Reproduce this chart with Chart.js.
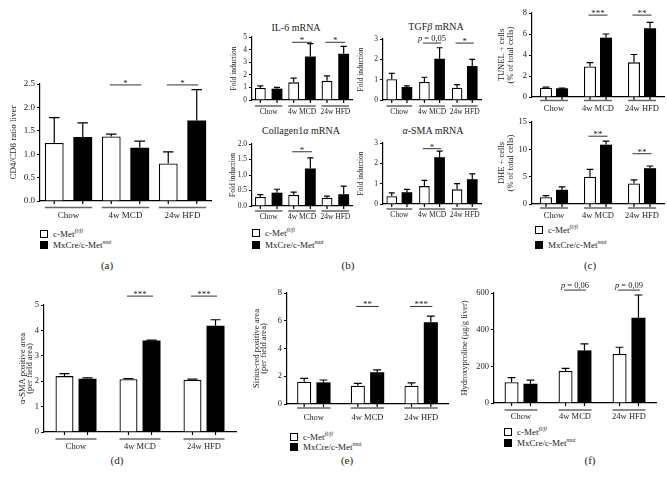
<!DOCTYPE html>
<html>
<head>
<meta charset="utf-8">
<script src="https://cdn.jsdelivr.net/npm/chart.js@4"></script>
<style>
  body { margin: 0; background: #fff; width: 667px; height: 490px; position: relative; overflow: hidden;
         font-family: 'Liberation Serif', 'DejaVu Serif', serif; color: #222; }
  canvas { position: absolute; }
  .t { position: absolute; transform: translate(-50%, -50%); font-size: 10px; white-space: nowrap; }
  .pl { position: absolute; transform: translate(-50%, -50%); font-size: 11px; }
  .leg { position: absolute; font-size: 9px; white-space: nowrap; }
  .sq { display: inline-block; width: 6px; height: 6px; border: 1px solid #000; margin-right: 5px; vertical-align: -1px; }
  .sq.b { background: #000; }
  sup { font-size: 6px; font-style: italic; vertical-align: 4px; line-height: 0; }
</style>
</head>
<body>

<div class="t" style="left:296px;top:27px">IL-6 mRNA</div>
<div class="t" style="left:436px;top:26px">TGF<i>β</i> mRNA</div>
<div class="t" style="left:301px;top:130px">Collagen1<i>α</i> mRNA</div>
<div class="t" style="left:433px;top:130px"><i>α</i>-SMA mRNA</div>

<div class="leg" style="left:40px;top:229px;line-height:11px"><div><span class="sq"></span>c-Met<sup>fl/fl</sup></div><div><span class="sq b"></span>MxCre/c-Met<sup>mut</sup></div></div>
<div class="leg" style="left:252px;top:227px;line-height:12px"><div><span class="sq"></span>c-Met<sup>fl/fl</sup></div><div><span class="sq b"></span>MxCre/c-Met<sup>mut</sup></div></div>
<div class="leg" style="left:535px;top:223px;line-height:15px"><div><span class="sq"></span>c-Met<sup>fl/fl</sup></div><div><span class="sq b"></span>MxCre/c-Met<sup>mut</sup></div></div>
<div class="leg" style="left:290px;top:432px;line-height:10px"><div><span class="sq"></span>c-Met<sup>fl/fl</sup></div><div><span class="sq b"></span>MxCre/c-Met<sup>mut</sup></div></div>
<div class="leg" style="left:504px;top:427px;line-height:11px"><div><span class="sq"></span>c-Met<sup>fl/fl</sup></div><div><span class="sq b"></span>MxCre/c-Met<sup>mut</sup></div></div>

<div class="pl" style="left:107px;top:265px">(a)</div>
<div class="pl" style="left:348px;top:265px">(b)</div>
<div class="pl" style="left:590px;top:265px">(c)</div>
<div class="pl" style="left:117px;top:460px">(d)</div>
<div class="pl" style="left:347px;top:460px">(e)</div>
<div class="pl" style="left:590px;top:460px">(f)</div>

<script>
const FONT = "'Liberation Serif', 'DejaVu Serif', serif";
const groups = ['Chow', '4w MCD', '24w HFD'];

// (a) CD4/CD8 ratio
const cd4Wt = [1.24, 1.38, 0.80];
const cd4WtErr = [1.78, 1.43, 1.05];
const cd4Mut = [1.37, 1.14, 1.72];
const cd4MutErr = [1.67, 1.28, 2.38];
const cd4Sig = ['', '*', '*'];
const cd4SigY = [null, 2.48, 2.48];

// (b) IL-6 mRNA
const il6Wt = [0.95, 1.40, 1.52];
const il6WtErr = [1.12, 1.73, 1.92];
const il6Mut = [0.90, 3.45, 3.67];
const il6MutErr = [1.00, 4.47, 4.26];
const il6Sig = ['', '*', '*'];
const il6SigY = [null, 4.58, 4.58];

// (b) TGFb mRNA
const tgfWt = [1.02, 0.89, 0.60];
const tgfWtErr = [1.31, 1.12, 0.76];
const tgfMut = [0.64, 2.03, 1.67];
const tgfMutErr = [0.69, 2.57, 2.00];
const tgfSig = ['', 'p = 0,05', '*'];
const tgfSigY = [null, 2.8, 2.8];

// (b) Collagen1a mRNA
const colWt = [0.29, 0.36, 0.27];
const colWtErr = [0.37, 0.45, 0.32];
const colMut = [0.43, 1.21, 0.38];
const colMutErr = [0.54, 1.55, 0.64];
const colSig = ['', '*', ''];
const colSigY = [null, 1.75, null];

// (b) a-SMA mRNA
const smaWt = [0.38, 0.88, 0.72];
const smaWtErr = [0.55, 1.16, 1.00];
const smaMut = [0.58, 2.30, 1.22];
const smaMutErr = [0.72, 2.60, 1.48];
const smaSig = ['', '*', ''];
const smaSigY = [null, 2.72, null];

// (c) TUNEL
const tunWt = [0.89, 2.90, 3.30];
const tunWtErr = [0.95, 3.28, 4.05];
const tunMut = [0.83, 5.65, 6.54];
const tunMutErr = [0.85, 6.00, 7.10];
const tunSig = ['', '***', '**'];
const tunSigY = [null, 7.8, 7.8];

// (c) DHE
const dheWt = [1.25, 5.00, 3.75];
const dheWtErr = [1.55, 6.35, 4.40];
const dheMut = [2.60, 10.85, 6.55];
const dheMutErr = [3.15, 11.50, 6.95];
const dheSig = ['', '**', '**'];
const dheSigY = [null, 12.4, 9.2];

// (d) a-SMA positive area
const areaWt = [2.20, 2.08, 2.06];
const areaWtErr = [2.30, 2.10, 2.08];
const areaMut = [2.10, 3.60, 4.18];
const areaMutErr = [2.13, 3.62, 4.42];
const areaSig = ['', '***', '***'];
const areaSigY = [null, 5.35, 5.35];

// (e) Sirius-red positive area
const srWt = [1.61, 1.32, 1.32];
const srWtErr = [1.85, 1.49, 1.52];
const srMut = [1.56, 2.29, 5.90];
const srMutErr = [1.73, 2.46, 6.33];
const srSig = ['', '**', '***'];
const srSigY = [null, 7.03, 7.03];

// (f) Hydroxyproline
const hypWt = [113, 175, 267];
const hypWtErr = [138, 189, 304];
const hypMut = [105, 287, 465];
const hypMutErr = [125, 322, 589];
const hypSig = ['', 'p = 0,06', 'p = 0,09'];
const hypSigY = [null, 616, 616];

// plot rectangles are page coordinates of the axes
const panels = [
  { L: 39.5, R: 210, T: 84.3, B: 201.7, min: 0, max: 2.5, step: 0.5, dec: 1, yTitle: ['CD4/CD8 ratio liver'], yTitleX: [14],
    fs: 9, cat: 1.0, bar: 0.66, ul: 6.5, lbl: 14.5, wt: cd4Wt, wtErr: cd4WtErr, mut: cd4Mut, mutErr: cd4MutErr, sig: cd4Sig, sigY: cd4SigY },
  { L: 251.5, R: 351, T: 37.3, B: 100, min: 0, max: 5, step: 1, dec: 0, yTitle: ['Fold induction'], yTitleX: [234],
    fs: 7.5, cat: 1.0, bar: 0.65, ul: 6, lbl: 12.5, wt: il6Wt, wtErr: il6WtErr, mut: il6Mut, mutErr: il6MutErr, sig: il6Sig, sigY: il6SigY },
  { L: 383, R: 480.5, T: 39, B: 100, min: 0, max: 3, step: 1, dec: 0, yTitle: ['Fold induction'], yTitleX: [361],
    fs: 7.5, cat: 0.93, bar: 0.7, ul: 6, lbl: 12.5, wt: tgfWt, wtErr: tgfWtErr, mut: tgfMut, mutErr: tgfMutErr, sig: tgfSig, sigY: tgfSigY },
  { L: 251.5, R: 351, T: 143.5, B: 205, min: 0, max: 2, step: 0.5, dec: 1, yTitle: ['Fold induction'], yTitleX: [233],
    fs: 7.5, cat: 1.0, bar: 0.65, ul: 5, lbl: 11.5, wt: colWt, wtErr: colWtErr, mut: colMut, mutErr: colMutErr, sig: colSig, sigY: colSigY },
  { L: 383, R: 480.5, T: 143.3, B: 204.7, min: 0, max: 3, step: 1, dec: 0, yTitle: ['Fold induction'], yTitleX: [361],
    fs: 7.5, cat: 0.93, bar: 0.7, ul: 5, lbl: 11.5, wt: smaWt, wtErr: smaWtErr, mut: smaMut, mutErr: smaMutErr, sig: smaSig, sigY: smaSigY },
  { L: 532, R: 664, T: 13, B: 97, min: 0, max: 8, step: 2, dec: 0, yTitle: ['TUNEL + cells', '(% of total cells)'], yTitleX: [502, 511],
    fs: 8.5, cat: 0.73, bar: 0.75, ul: 3.5, lbl: 12, wt: tunWt, wtErr: tunWtErr, mut: tunMut, mutErr: tunMutErr, sig: tunSig, sigY: tunSigY },
  { L: 532, R: 664, T: 121.7, B: 203.3, min: 0, max: 15, step: 5, dec: 0, yTitle: ['DHE + cells', '(% of total cells)'], yTitleX: [502, 511],
    fs: 8.5, cat: 0.73, bar: 0.75, ul: 4, lbl: 12, wt: dheWt, wtErr: dheWtErr, mut: dheMut, mutErr: dheMutErr, sig: dheSig, sigY: dheSigY },
  { L: 44, R: 236, T: 305, B: 432, min: 0, max: 5, step: 1, dec: 0, yTitle: ['α-SMA positive area', '(per field area)'], yTitleX: [23, 30],
    fs: 8.5, cat: 0.72, bar: 0.78, ul: 7, lbl: 15, wt: areaWt, wtErr: areaWtErr, mut: areaMut, mutErr: areaMutErr, sig: areaSig, sigY: areaSigY },
  { L: 286.5, R: 447.3, T: 292.6, B: 403.3, min: 0, max: 8, step: 2, dec: 0, yTitle: ['Sirius-red positive area', '(per field area)'], yTitleX: [257, 264],
    fs: 8.5, cat: 0.72, bar: 0.73, ul: 4, lbl: 13.4, wt: srWt, wtErr: srWtErr, mut: srMut, mutErr: srMutErr, sig: srSig, sigY: srSigY },
  { L: 494, R: 656, T: 293, B: 403, min: 0, max: 600, step: 200, dec: 0, yTitle: ['Hydroxyproline (μg/g liver)'], yTitleX: [465],
    fs: 8.5, cat: 0.70, bar: 0.74, ul: 7, lbl: 14, wt: hypWt, wtErr: hypWtErr, mut: hypMut, mutErr: hypMutErr, sig: hypSig, sigY: hypSigY }
];

// error bars, group underlines, labels, significance marks, y titles
const gp = {
  id: 'gp',
  afterDatasetsDraw(chart, args, o) {
    const p = o.p, ctx = chart.ctx, ys = chart.scales.y, ca = chart.chartArea;
    const m0 = chart.getDatasetMeta(0).data, m1 = chart.getDatasetMeta(1).data;
    const errs = [p.wtErr, p.mutErr];
    const f = p.fs + 'px ' + FONT;
    ctx.save();
    ctx.strokeStyle = '#000';
    ctx.lineWidth = 1.2;
    [m0, m1].forEach((els, d) => els.forEach((b, i) => {
      const ye = ys.getPixelForValue(errs[d][i]);
      const cw = b.width * 0.28;
      ctx.beginPath();
      ctx.moveTo(b.x, b.y); ctx.lineTo(b.x, ye);
      ctx.moveTo(b.x - cw, ye); ctx.lineTo(b.x + cw, ye);
      ctx.moveTo(b.x, ca.bottom); ctx.lineTo(b.x, ca.bottom + 3);
      ctx.stroke();
    }));

    ctx.font = f;
    ctx.fillStyle = '#222';
    groups.forEach((g, i) => {
      const a = m0[i], b = m1[i];
      const c = (a.x + b.x) / 2;
      // underline
      ctx.strokeStyle = '#666'; ctx.lineWidth = 1.5;
      ctx.beginPath();
      ctx.moveTo(a.x - a.width / 2, ca.bottom + p.ul);
      ctx.lineTo(b.x + b.width / 2, ca.bottom + p.ul);
      ctx.stroke();
      ctx.textAlign = 'center'; ctx.textBaseline = 'middle';
      ctx.fillText(g, c, ca.bottom + p.lbl);

      // significance
      if (p.sig[i]) {
        const y = ys.getPixelForValue(p.sigY[i]);
        const half = (b.x - a.x) / 2 + 1.5;
        ctx.strokeStyle = '#333'; ctx.lineWidth = 1;
        ctx.beginPath(); ctx.moveTo(c - half, y); ctx.lineTo(c + half, y); ctx.stroke();
        ctx.textBaseline = 'alphabetic';
        const s = p.sig[i];
        if (s.startsWith('p')) {
          const rest = s.slice(1);
          const pf = '8.5px ' + FONT;
          ctx.font = 'italic ' + pf;
          const w1 = ctx.measureText('p').width;
          ctx.font = pf;
          const w2 = ctx.measureText(rest).width;
          const x0 = c - (w1 + w2) / 2;
          ctx.textAlign = 'left';
          ctx.font = 'italic ' + pf;
          ctx.fillText('p', x0, y - 2.5);
          ctx.font = pf;
          ctx.fillText(rest, x0 + w1, y - 2.5);
        } else {
          ctx.textAlign = 'center';
          ctx.font = '9px ' + FONT;
          ctx.fillText(s, c, y + 1);
        }
        ctx.font = f;
      }
    });

    // y axis title
    ctx.textAlign = 'center'; ctx.textBaseline = 'middle';
    p.yTitle.forEach((t, k) => {
      ctx.save();
      ctx.translate(p.yTitleX[k] - p.left, (ca.top + ca.bottom) / 2);
      ctx.rotate(-Math.PI / 2);
      ctx.fillText(t, 0, 0);
      ctx.restore();
    });
    ctx.restore();
  }
};

panels.forEach(p => {
  const yw = Math.round(p.L - Math.min(...p.yTitleX) + 7);
  const pt = 14, pr = 4, pb = 24, xh = 1;
  const left = Math.round(p.L) - yw;
  const top = Math.round(p.T) - pt;
  const w = yw + Math.round(p.R - p.L) + pr;
  const h = pt + Math.round(p.B - p.T) + xh + pb;
  p.left = left;
  const cv = document.createElement('canvas');
  cv.width = w; cv.height = h;
  cv.style.left = left + 'px'; cv.style.top = top + 'px';
  document.body.appendChild(cv);

  new Chart(cv, {
    type: 'bar',
    data: {
      labels: groups,
      datasets: [
        { data: p.wt, backgroundColor: '#fff', borderColor: '#000', borderWidth: 1.3, borderSkipped: 'bottom',
          barPercentage: p.bar, categoryPercentage: p.cat },
        { data: p.mut, backgroundColor: '#000', borderColor: '#000', borderWidth: 0,
          barPercentage: p.bar, categoryPercentage: p.cat }
      ]
    },
    options: {
      responsive: false,
      animation: false,
      devicePixelRatio: 1,
      layout: { padding: { top: pt, right: pr, bottom: pb, left: 0 } },
      plugins: { legend: { display: false }, tooltip: { enabled: false }, gp: { p } },
      scales: {
        x: {
          grid: { display: false },
          ticks: { display: false },
          border: { color: '#000', width: 1.2 },
          afterFit(s) { s.height = xh; }
        },
        y: {
          min: p.min, max: p.max,
          ticks: { stepSize: p.step, color: '#222', padding: 2, font: { family: FONT, size: p.fs },
                   callback: v => v.toFixed(p.dec) },
          grid: { drawOnChartArea: false, drawTicks: true, tickLength: 3, color: '#000', lineWidth: 1 },
          border: { color: '#000', width: 1.2 },
          afterFit(s) { s.width = yw; }
        }
      }
    },
    plugins: [gp]
  });
});
</script>
</body>
</html>
